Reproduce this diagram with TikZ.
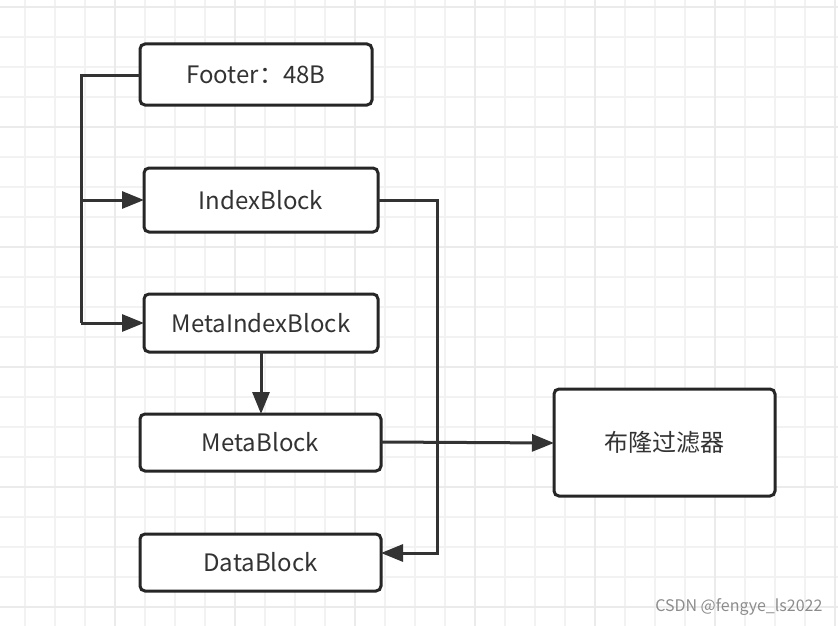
\documentclass[tikz,border=0pt]{standalone}
\usepackage{fontspec}
\setmainfont{Noto Sans CJK SC}
\usetikzlibrary{arrows.meta}
\begin{document}
\begin{tikzpicture}[x=1pt,y=-1pt,
  box/.style={draw=black!85,line width=3pt,rounded corners=5pt,fill=white,font=\fontsize{24}{28}\selectfont,text=black!80},
  conn/.style={draw=black!80,line width=3pt},
  arr/.style={conn,-{Triangle[length=22pt,width=17pt]}}]
\useasboundingbox (0,0) rectangle (838,626);
\fill[white] (0,0) rectangle (838,626);
\foreach \x in {25,55,...,838} \draw[black!5,line width=1.2pt] (\x,0) -- (\x,626);
\foreach \y in {7,37,...,626} \draw[black!5,line width=1.2pt] (0,\y) -- (838,\y);
\foreach \x in {115,235,...,838} \draw[black!8,line width=2pt] (\x,0) -- (\x,626);
\foreach \y in {7,127,...,626} \draw[black!8,line width=2pt] (0,\y) -- (838,\y);
\path[box] (140,44) rectangle node (footer) {Footer：48B} (372,105);
\path[box] (144,168) rectangle node (index) {IndexBlock} (378,232);
\path[box] (144,294) rectangle node (metaindex) {MetaIndexBlock} (378,352);
\path[box] (140,414) rectangle node (meta) {MetaBlock} (381,471);
\path[box] (140,534) rectangle node (data) {DataBlock} (381,591);
\path[box] (554,389) rectangle node (bloom) {布隆过滤器} (775,496);
\coordinate (fl) at (140,76);
\coordinate (il) at (144,200);
\coordinate (ml) at (144,323);
\coordinate (ir) at (378,200);
\coordinate (dr) at (381,553);
\draw[conn] (fl) -| (81,323);
\draw[arr] (81,200) -- (il);
\draw[arr] (81,323) -- (ml);
\draw[arr] (ir) -| (437,553) -- (dr);
\draw[arr] (261,352) -- (261,414);
\draw[arr] (381,442) -- (554,443);
\node[anchor=south east,text=black!45,font=\fontsize{16}{18}\selectfont] (wm) at (826,619) {CSDN @fengye\_ls2022};
\end{tikzpicture}
\end{document}
